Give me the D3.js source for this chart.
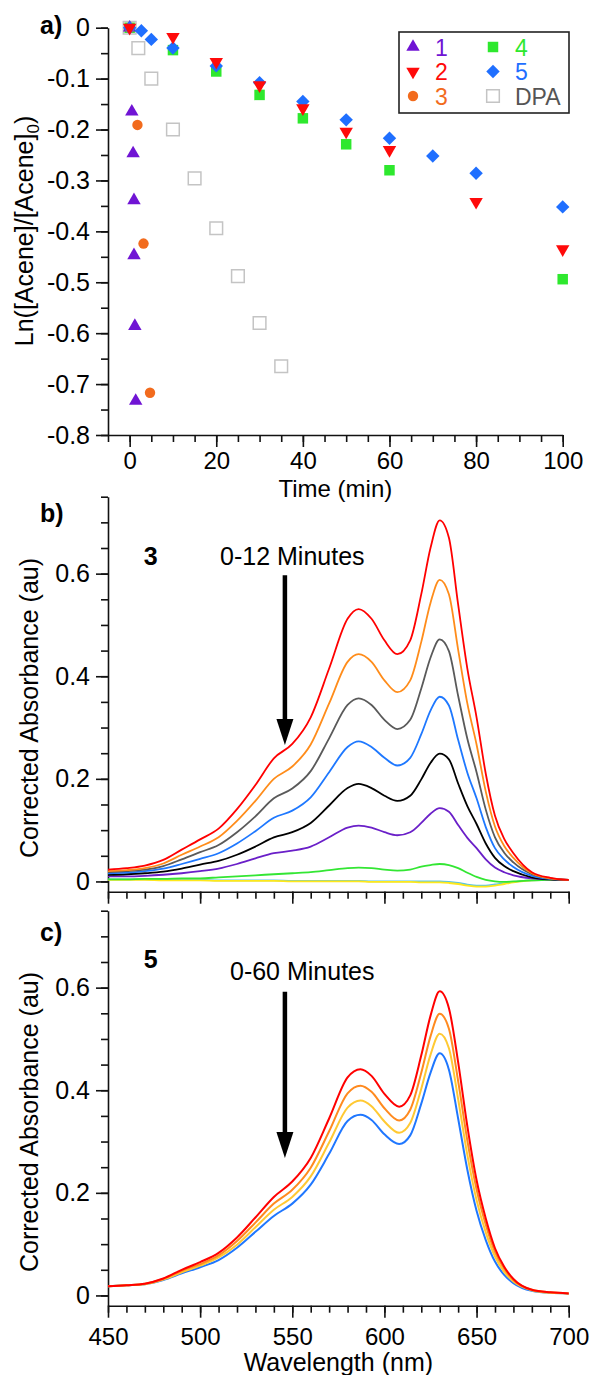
<!DOCTYPE html>
<html>
<head>
<meta charset="utf-8">
<script src="https://cdn.jsdelivr.net/npm/d3@7"></script>
<style>
  body { margin: 0; background: #fff; }
  svg { display: block; font-family: "Liberation Sans", Arial, sans-serif; }
</style>
</head>
<body>
<div class="chart"></div>
<script>
// ---- panel a: ln([Acene]/[Acene]0) vs time ----
const time1 = [0, 0.5, 0.8, 1.0, 1.0, 1.2, 1.4];
const ln1   = [0, -0.165, -0.247, -0.339, -0.447, -0.586, -0.733];
const time2 = [0, 10, 20, 30, 40, 50, 60, 80, 100];
const ln2   = [0, -0.018, -0.067, -0.113, -0.158, -0.204, -0.240, -0.342, -0.435];
const time3 = [0, 1.8, 3.2, 4.7];
const ln3   = [0, -0.191, -0.424, -0.717];
const time4 = [0, 10, 20, 30, 40, 50, 60, 100];
const ln4   = [0, -0.044, -0.086, -0.132, -0.178, -0.229, -0.280, -0.494];
const time5 = [0, 2.7, 5, 10, 20, 30, 40, 50, 60, 70, 80, 100];
const ln5   = [0, -0.006, -0.023, -0.040, -0.075, -0.108, -0.145, -0.181, -0.217, -0.252, -0.286, -0.352];
const timeDPA = [0, 2, 5, 10, 15, 20, 25, 30, 35];
const lnDPA   = [0, -0.040, -0.100, -0.200, -0.296, -0.394, -0.488, -0.580, -0.665];

const timeTicks = [0, 20, 40, 60, 80, 100];
const lnTicks = [0, -0.1, -0.2, -0.3, -0.4, -0.5, -0.6, -0.7, -0.8];

// ---- panel b: compound 3, 0-12 min ----
const wlB = [450, 460, 470, 480, 490, 500, 510, 520, 530, 540, 550, 560, 570, 580, 586, 593, 600, 607, 614, 620, 625, 630, 635, 640, 645, 650, 655, 660, 665, 670, 680, 690, 700];
const bRed    = [.023, .026, .031, .042, .062, .082, .103, .141, .188, .240, .268, .320, .415, .512, .531, .512, .470, .443, .470, .560, .650, .704, .670, .540, .415, .320, .210, .128, .083, .055, .018, .007, .003];
const bOrange = [.020, .022, .026, .035, .052, .068, .086, .118, .157, .200, .224, .267, .347, .428, .443, .428, .392, .369, .392, .467, .543, .588, .560, .452, .347, .267, .175, .107, .069, .046, .016, .006, .003];
const bGray   = [.018, .020, .023, .030, .043, .057, .071, .096, .127, .162, .181, .215, .279, .344, .357, .344, .315, .297, .315, .376, .436, .472, .449, .362, .278, .213, .140, .086, .056, .037, .014, .006, .003];
const bBlue   = [.016, .017, .020, .025, .034, .044, .055, .074, .098, .124, .138, .164, .213, .262, .273, .262, .241, .226, .241, .287, .333, .360, .343, .276, .212, .162, .106, .065, .043, .028, .011, .005, .003];
const bBlack  = [.013, .014, .016, .019, .025, .033, .040, .052, .068, .086, .096, .114, .148, .182, .190, .182, .167, .157, .167, .199, .231, .249, .238, .191, .147, .112, .074, .046, .030, .020, .008, .004, .003];
const bPurple = [.010, .010, .011, .013, .016, .020, .025, .034, .045, .055, .060, .068, .086, .105, .109, .105, .096, .090, .096, .114, .132, .143, .136, .110, .085, .065, .043, .027, .018, .012, .006, .004, .003];
const bGreen  = [.004, .004, .005, .005, .006, .006, .008, .010, .012, .014, .016, .018, .022, .026, .027, .026, .023, .021, .023, .029, .032, .034, .032, .026, .017, .009, .003, .000, -.001, .000, .002, .003, .003];
const bCyan   = [.004, .004, .004, .003, .003, .003, .002, .002, .002, .002, .001, .001, .001, .001, .001, .000, .000, .000, .000, .000, .000, .000, -.001, -.003, -.006, -.008, -.008, -.006, -.004, -.001, .002, .003, .003];
const bYellow = [.003, .003, .003, .002, .002, .002, .001, .001, .001, .001, .000, .000, .000, .000, .000, -.001, -.001, -.001, -.001, -.002, -.002, -.002, -.003, -.005, -.008, -.010, -.010, -.008, -.005, -.002, .002, .003, .003];

// ---- panel c: compound 5, 0-60 min ----
const wlC = [450, 460, 470, 480, 490, 500, 510, 520, 530, 540, 550, 560, 570, 580, 587, 593, 600, 608, 614, 620, 625, 630, 635, 640, 645, 650, 655, 660, 665, 670, 680, 690, 700];
const cRed    = [.018, .020, .023, .033, .050, .065, .083, .113, .152, .192, .222, .268, .345, .425, .441, .428, .393, .368, .390, .468, .545, .593, .560, .455, .330, .225, .150, .092, .056, .032, .011, .006, .004];
const cOrange = [.018, .020, .023, .032, .048, .061, .078, .106, .142, .179, .206, .249, .320, .394, .409, .397, .365, .341, .362, .434, .505, .549, .520, .418, .302, .207, .138, .085, .052, .030, .011, .006, .004];
const cYellow = [.018, .020, .022, .031, .045, .058, .074, .099, .133, .167, .192, .232, .298, .366, .380, .369, .339, .317, .336, .403, .469, .510, .482, .383, .274, .186, .123, .076, .046, .027, .010, .005, .004];
const cBlue   = [.018, .020, .022, .030, .043, .055, .069, .093, .124, .155, .179, .216, .276, .340, .352, .342, .314, .295, .312, .374, .434, .472, .440, .345, .245, .165, .108, .066, .040, .024, .009, .005, .004];

const wlTicks = [450, 500, 550, 600, 650, 700];
const absTicks = [0, 0.2, 0.4, 0.6];

const width = 592, height = 1375;
const svg = d3.select(".chart")
    .append("svg")
    .attr("width", width)
    .attr("height", height);

const fontSize = 24;

// axis helpers: one pass for minor ticks + domain, one for major ticks + labels
function styleAxis(g, size) {
    g.attr("font-family", null).attr("font-size", null);
    g.selectAll("path, line").attr("stroke", "#111").attr("stroke-width", 1.6);
    g.selectAll("text").attr("fill", "#000").style("font-size", size + "px");
}

function axisPair(axisFn, scale, pos, horizontal, major, minor, fmt, pad) {
    const tr = horizontal ? `translate(0,${pos})` : `translate(${pos},0)`;
    const size = horizontal ? fontSize : 25;
    svg.append("g")
        .attr("transform", tr)
        .call(axisFn(scale).tickValues(minor).tickSize(7).tickFormat("").tickSizeOuter(0))
        .call(styleAxis, size);
    svg.append("g")
        .attr("transform", tr)
        .call(axisFn(scale).tickValues(major).tickSize(12).tickPadding(pad).tickFormat(fmt))
        .call(g => g.select(".domain").remove())
        .call(styleAxis, size);
}

// ================= panel a =================
const xA = d3.scaleLinear().domain([-5, 100]).range([108, 562.7]);
const yA = d3.scaleLinear().domain([-0.8, 0]).range([435, 27.7]);

axisPair(d3.axisLeft, yA, 108, false, lnTicks, d3.range(-0.8, 0.001, 0.05),
    d => d === 0 ? "0" : d.toFixed(1), 6);
axisPair(d3.axisBottom, xA, 435, true, timeTicks, d3.range(-5, 100.1, 5),
    d => d, 5);

const shapes = {
    triUp:   {type: d3.symbolTriangle, size: 78, rot: 0},
    triDown: {type: d3.symbolTriangle, size: 78, rot: 180},
    circle:  {type: d3.symbolCircle,   size: 85, rot: 0},
    square:  {type: d3.symbolSquare,   size: 110, rot: 0},
    diamond: {type: d3.symbolSquare,   size: 90, rot: 45},
    open:    {type: d3.symbolSquare,   size: 160, rot: 0}
};

const kinetics = [
    {name: "4",   t: time4,   v: ln4,   color: "#2ee82e", shape: "square"},
    {name: "DPA", t: timeDPA, v: lnDPA, color: "#c4c4c4", shape: "open"},
    {name: "1",   t: time1,   v: ln1,   color: "#7014d4", shape: "triUp"},
    {name: "3",   t: time3,   v: ln3,   color: "#f26b1d", shape: "circle"},
    {name: "5",   t: time5,   v: ln5,   color: "#1f6fff", shape: "diamond"},
    {name: "2",   t: time2,   v: ln2,   color: "#ff0a0a", shape: "triDown"}
];

function drawMarker(sel, s) {
    const sh = shapes[s.shape];
    sel.attr("d", d3.symbol(sh.type, sh.size)())
        .attr("fill", s.shape === "open" ? "none" : s.color)
        .attr("stroke", s.shape === "open" ? s.color : "none")
        .attr("stroke-width", 1.5);
}

kinetics.forEach(s => {
    const sh = shapes[s.shape];
    svg.append("g").selectAll("path")
        .data(s.t.map((t, i) => [t, s.v[i]]))
        .enter()
        .append("path")
        .attr("transform", d => `translate(${xA(d[0])},${yA(d[1])}) rotate(${sh.rot})`)
        .call(drawMarker, s);
});

// legend
const legend = svg.append("g");
legend.append("rect")
    .attr("x", 399).attr("y", 32)
    .attr("width", 170).attr("height", 81)
    .attr("fill", "#fff")
    .attr("stroke", "#222")
    .attr("stroke-width", 1.6);

const legendOrder = ["1", "2", "3", "4", "5", "DPA"];
const legendColor = {"1": "#7014d4", "2": "#ff0a0a", "3": "#f26b1d", "4": "#2ee82e", "5": "#1f6fff", "DPA": "#555"};
legendOrder.forEach((name, i) => {
    const s = kinetics.find(k => k.name === name);
    const col = Math.floor(i / 3), row = i % 3;
    const cx = 413 + col * 80, cy = 47 + row * 24.5;
    legend.append("path")
        .attr("transform", `translate(${cx},${cy}) rotate(${shapes[s.shape].rot})`)
        .call(drawMarker, s);
    legend.append("text")
        .attr("x", cx + 22).attr("y", cy + 8.5)
        .attr("fill", legendColor[name])
        .style("font-size", "23px")
        .text(name);
});

svg.append("text")
    .attr("x", 40).attr("y", 34)
    .attr("font-weight", "bold")
    .style("font-size", "25px")
    .text("a)");

svg.append("text")
    .attr("x", xA(47.5)).attr("y", 497)
    .attr("text-anchor", "middle")
    .style("font-size", fontSize + "px")
    .text("Time (min)");

const ylabA = svg.append("text")
    .attr("transform", "translate(33,231) rotate(-90)")
    .attr("text-anchor", "middle")
    .style("font-size", "25px");
ylabA.append("tspan").text("Ln([Acene]/[Acene]");
ylabA.append("tspan").attr("dy", 6).style("font-size", "17px").text("0");
ylabA.append("tspan").attr("dy", -6).text(")");

// ================= panels b and c =================
const xS = d3.scaleLinear().domain([450, 700]).range([108, 568.7]);
const yB = d3.scaleLinear().domain([-0.02, 0.75]).range([891.7, 496.7]);
const yC = d3.scaleLinear().domain([-0.02, 0.75]).range([1305.7, 910.7]);

const absFmt = d => d === 0 ? "0" : d.toFixed(1);

axisPair(d3.axisLeft, yB, 108, false, absTicks, d3.range(0, 0.751, 0.05), absFmt, 6);
axisPair(d3.axisBottom, xS, 891.7, true, wlTicks, d3.range(450, 700.1, 10), "", 6);

axisPair(d3.axisLeft, yC, 108, false, absTicks, d3.range(0, 0.751, 0.05), absFmt, 6);
axisPair(d3.axisBottom, xS, 1305.7, true, wlTicks, d3.range(450, 700.1, 10), d => d, 10);

function spectra(y, wl, list, lw) {
    const line = d3.line()
        .x(d => xS(d[0]))
        .y(d => y(d[1]))
        .curve(d3.curveMonotoneX);
    list.forEach(s => {
        svg.append("path")
            .datum(wl.map((w, i) => [w, s.v[i]]))
            .attr("fill", "none")
            .attr("stroke", s.color)
            .attr("stroke-width", lw)
            .attr("stroke-linejoin", "round")
            .attr("d", line);
    });
}

spectra(yB, wlB, [
    {v: bCyan,   color: "#58c4e6"},
    {v: bYellow, color: "#ffe81a"},
    {v: bGreen,  color: "#33e633"},
    {v: bPurple, color: "#6a1fc8"},
    {v: bBlack,  color: "#000000"},
    {v: bBlue,   color: "#1e78ff"},
    {v: bGray,   color: "#5a5a5a"},
    {v: bOrange, color: "#ff8c1a"},
    {v: bRed,    color: "#ff0000"}
], 1.8);

spectra(yC, wlC, [
    {v: cBlue,   color: "#1f77ff"},
    {v: cYellow, color: "#ffc933"},
    {v: cOrange, color: "#ff8a1f"},
    {v: cRed,    color: "#ff0000"}
], 2);

function arrow(x, yTop, yTip) {
    svg.append("line")
        .attr("x1", x).attr("x2", x)
        .attr("y1", yTop).attr("y2", yTip - 22)
        .attr("stroke", "#000")
        .attr("stroke-width", 4.5);
    svg.append("path")
        .attr("d", `M${x - 8.5},${yTip - 26}L${x + 8.5},${yTip - 26}L${x},${yTip}Z`)
        .attr("fill", "#000");
}

arrow(xS(546), yB(0.597), yB(0.266));
arrow(xS(546), yC(0.592), yC(0.268));

svg.append("text").attr("x", 40).attr("y", 522)
    .attr("font-weight", "bold").style("font-size", "25px").text("b)");
svg.append("text").attr("x", 40).attr("y", 941)
    .attr("font-weight", "bold").style("font-size", "25px").text("c)");

svg.append("text").attr("x", xS(469.4)).attr("y", yB(0.617))
    .attr("font-weight", "bold").style("font-size", "25px").text("3");
svg.append("text").attr("x", xS(510.8)).attr("y", yB(0.617))
    .style("font-size", "25px").text("0-12 Minutes");

svg.append("text").attr("x", xS(469.4)).attr("y", yC(0.638))
    .attr("font-weight", "bold").style("font-size", "25px").text("5");
svg.append("text").attr("x", xS(516.2)).attr("y", yC(0.614))
    .style("font-size", "25px").text("0-60 Minutes");

svg.append("text")
    .attr("transform", "translate(38,708) rotate(-90)")
    .attr("text-anchor", "middle")
    .style("font-size", "25px")
    .text("Corrected Absorbance (au)");
svg.append("text")
    .attr("transform", "translate(38,1122) rotate(-90)")
    .attr("text-anchor", "middle")
    .style("font-size", "25px")
    .text("Corrected Absorbance (au)");

svg.append("text")
    .attr("x", xS(575)).attr("y", 1371)
    .attr("text-anchor", "middle")
    .style("font-size", "25px")
    .text("Wavelength (nm)");
</script>
</body>
</html>
